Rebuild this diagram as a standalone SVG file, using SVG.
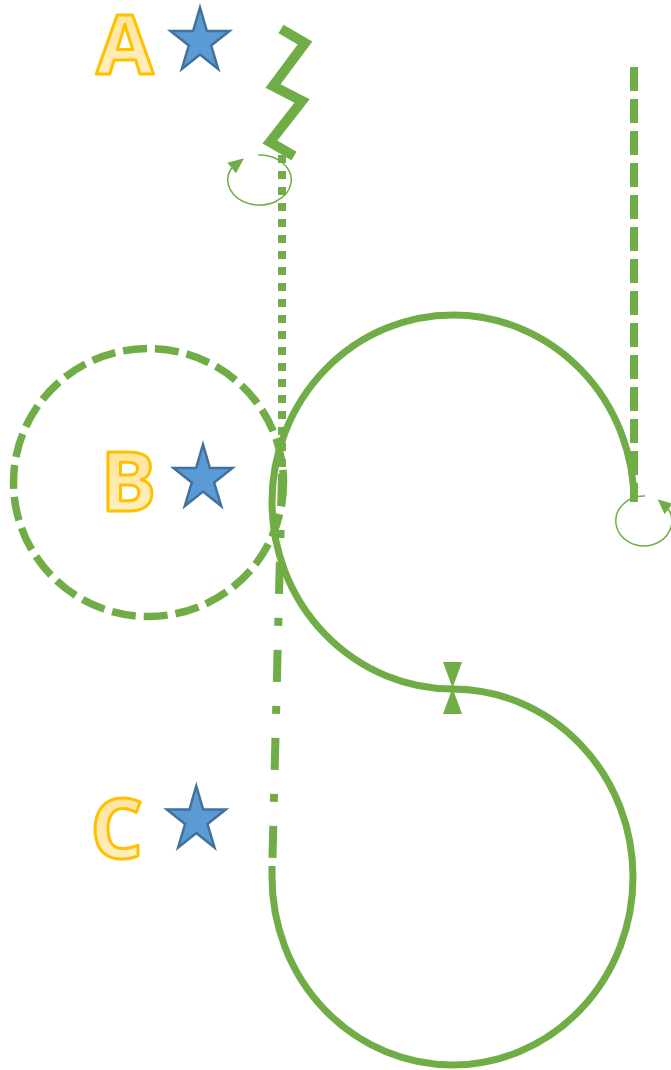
<svg xmlns="http://www.w3.org/2000/svg" width="671" height="1070" viewBox="0 0 671 1070">
  <style>
    .g { fill: none; stroke: #70AD47; stroke-linecap: butt; }
    .gf { fill: #70AD47; stroke: none; }
    .letter { font-family: "Open Sans", "Liberation Sans", sans-serif; font-weight: bold; font-size: 83px; fill: url(#lg); stroke: #FFC000; stroke-width: 3; stroke-linejoin: round; text-anchor: middle; }
    .star { fill: #5B9BD5; stroke: #41719C; stroke-width: 2.5; stroke-linejoin: miter; }
  </style>
  <defs>
    <linearGradient id="lg" x1="0" y1="0" x2="0" y2="1">
      <stop offset="0" stop-color="#FFE08A"/>
      <stop offset="1" stop-color="#FFF2CC"/>
    </linearGradient>
    <path id="star5" d="M0,-34 L6.9,-10.5 L29.5,-10.5 L11.2,4 L18.2,27.5 L0,13 L-18.2,27.5 L-11.2,4 L-29.5,-10.5 L-6.9,-10.5 Z"/>
  </defs>
  <rect width="671" height="1070" fill="#FFFFFF"/>

  <g id="circle-B">
    <ellipse class="g" cx="148.5" cy="482.5" rx="135" ry="134" stroke-width="7.5" stroke-dasharray="24 8"/>
  </g>

  <g id="connectors">
    <polyline class="g" points="281,29 305,43 273,86 302,101 270,142 294,156" stroke-width="10" stroke-linejoin="miter"/>
    <line class="g" x1="282" y1="155" x2="282" y2="470" stroke-width="8" stroke-dasharray="8 8"/>
    <line class="g" x1="282" y1="474" x2="272" y2="877" stroke-width="8" stroke-dasharray="32 24 8 24"/>
    <line class="g" x1="634" y1="67" x2="634" y2="502" stroke-width="8" stroke-dasharray="24 8"/>
    <path class="g" d="M634,502 A181 187 0 1 0 452.5,689 A180.5 188 0 1 1 272,877 L272,866" stroke-width="7"/>
    <polygon class="gf" points="443,662 462,662 452.5,688 462,714 443,714 452.5,688"/>
    <path class="g" d="M258.3,155 A31.7 25 0 1 1 231.7,168" stroke-width="1.5"/>
    <polygon class="gf" points="227.3,162.7 244,158.3 236,173.3"/>
    <path class="g" d="M645,496 A28 25 0 1 0 668.4,509" stroke-width="1.5"/>
    <polygon class="gf" points="672.4,503.7 657.6,499.3 664.7,514.3"/>
  </g>

  <g id="node-A">
    <text class="letter" x="125" y="73.5">A</text>
  </g>
  <g id="star-A">
    <use href="#star5" class="star" transform="translate(200,41.5)"/>
  </g>
  <g id="node-B">
    <text class="letter" x="128.3" y="511">B</text>
  </g>
  <g id="star-B">
    <use href="#star5" class="star" transform="translate(203,478.5)"/>
  </g>
  <g id="node-C">
    <text class="letter" x="116.7" y="858">C</text>
  </g>
  <g id="star-C">
    <use href="#star5" class="star" transform="translate(196.3,820)"/>
  </g>
</svg>
